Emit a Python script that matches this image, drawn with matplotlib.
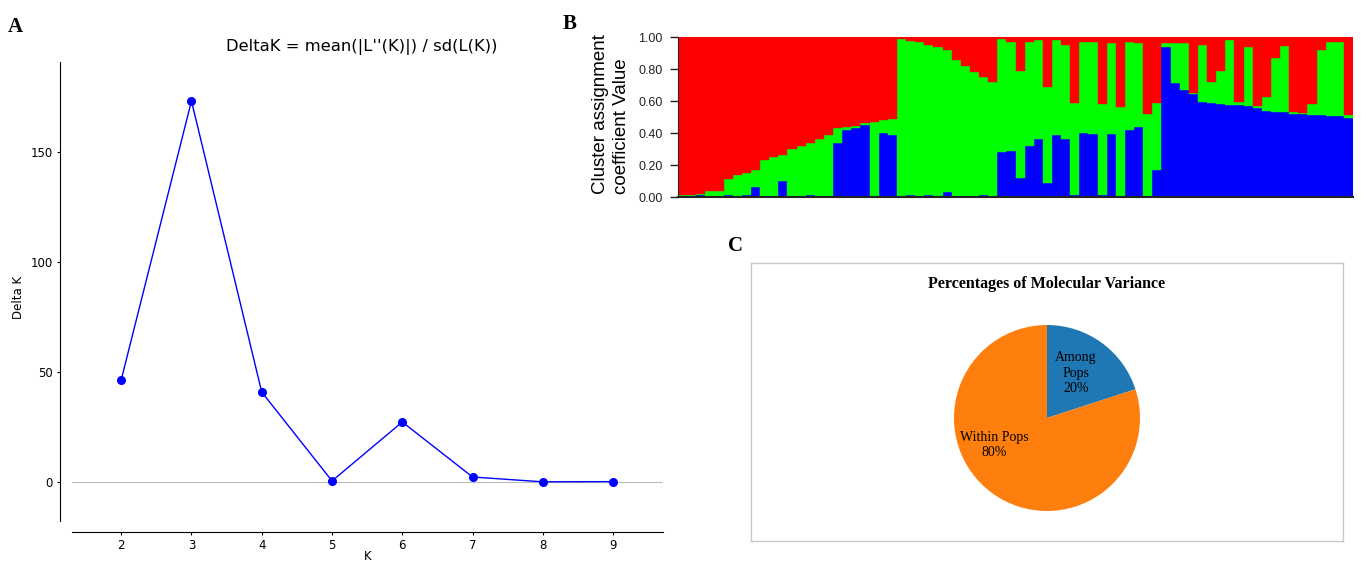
import matplotlib
matplotlib.use('Agg')
import matplotlib.pyplot as plt
import numpy as np

W, H = 1372, 565

# ---------------- Panel A data ----------------
k_values = [2, 3, 4, 5, 6, 7, 8, 9]
delta_k = [46.4, 173.2, 40.9, 0.5, 27.3, 2.3, 0.1, 0.2]
a_yticks = [0, 50, 100, 150]

# ---------------- Panel B data (per individual) ----------------
blue = [0.00, 0.00, 0.01, 0.00, 0.00, 0.01, 0.00, 0.01, 0.06, 0.00,
        0.00, 0.10, 0.00, 0.00, 0.01, 0.00, 0.00, 0.34, 0.42, 0.43,
        0.45, 0.00, 0.40, 0.39, 0.00, 0.01, 0.00, 0.01, 0.00, 0.03,
        0.00, 0.00, 0.00, 0.01, 0.00, 0.28, 0.29, 0.12, 0.32, 0.36,
        0.085, 0.39, 0.36, 0.01, 0.40, 0.395, 0.01, 0.395, 0.00, 0.42,
        0.435, 0.00, 0.17, 0.94, 0.71, 0.67, 0.645, 0.595, 0.585, 0.58,
        0.575, 0.575, 0.57, 0.555, 0.54, 0.53, 0.53, 0.52, 0.52, 0.515,
        0.515, 0.505, 0.505, 0.495]
green = [0.01, 0.01, 0.01, 0.04, 0.04, 0.10, 0.14, 0.14, 0.11, 0.23,
         0.25, 0.16, 0.30, 0.32, 0.33, 0.36, 0.385, 0.09, 0.02, 0.015,
         0.01, 0.47, 0.08, 0.095, 0.985, 0.965, 0.97, 0.94, 0.94, 0.89,
         0.855, 0.82, 0.78, 0.74, 0.72, 0.705, 0.68, 0.665, 0.65, 0.62,
         0.605, 0.59, 0.59, 0.58, 0.57, 0.575, 0.57, 0.565, 0.56, 0.55,
         0.525, 0.52, 0.42, 0.025, 0.25, 0.29, 0.005, 0.355, 0.135, 0.21,
         0.405, 0.02, 0.37, 0.015, 0.085, 0.34, 0.415, 0.01, 0.005, 0.065,
         0.405, 0.465, 0.465, 0.015]
red = [round(1.0 - b - g, 4) for b, g in zip(blue, green)]
b_yticks = [0.0, 0.2, 0.4, 0.6, 0.8, 1.0]

# ---------------- Panel C data ----------------
pie_values = [20, 80]
pie_colors = ['#1f77b4', '#ff7f0e']
pie_texts = ["Among\nPops\n20%", "Within Pops\n80%"]

fig = plt.figure(figsize=(W / 100, H / 100), dpi=100)
PT = 72 / 100  # points per pixel


def px_axes(l, t, r, b):
    return fig.add_axes([l / W, 1 - b / H, (r - l) / W, (b - t) / H])


def ftext(x, y, s, **kw):
    return fig.text(x / W, 1 - y / H, s, **kw)


# ---------------- Panel A ----------------
axA = px_axes(72, 62, 663, 521)
axA.set_xlim(1.3, 9.71)
axA.set_ylim(-17.7, 190.9)
axA.axhline(0, color='#bbbbbb', lw=0.8, zorder=0)
axA.plot(k_values, delta_k, '-o', color='#0000ff', lw=1.0, ms=5.5, zorder=3)
for s in ('top', 'right'):
    axA.spines[s].set_visible(False)
axA.spines['left'].set_position(('outward', 12 * PT))
axA.spines['bottom'].set_position(('outward', 11 * PT))
axA.set_xticks(k_values)
axA.set_yticks(a_yticks)
axA.tick_params(labelsize=8.5, length=2, direction='out', pad=3)
ftext(18, 297, 'Delta K', rotation=90, ha='center', va='center', fontsize=8.5,
      family='DejaVu Sans')
ftext(368, 557, 'K', ha='center', va='center', fontsize=8.5, family='DejaVu Sans')
ftext(362, 47, "DeltaK = mean(|L''(K)|) / sd(L(K))", ha='center', va='center',
      fontsize=11.8, family='DejaVu Sans')

# ---------------- Panel B ----------------
axB = px_axes(678, 37, 1353, 197)
n = len(blue)
x = np.arange(n)
bb = np.array(blue)
gg = np.array(green)
rr = np.array(red)
axB.bar(x, bb, width=1.0, align='edge', color='#0000ff', edgecolor='#0000ff', lw=0.3)
axB.bar(x, gg, bottom=bb, width=1.0, align='edge', color='#00ff00', edgecolor='#00ff00', lw=0.3)
axB.bar(x, rr, bottom=bb + gg, width=1.0, align='edge', color='#ff0000', edgecolor='#ff0000', lw=0.3)
axB.set_xlim(0, n)
axB.set_ylim(0, 1)
for s in ('top', 'right'):
    axB.spines[s].set_visible(False)
axB.spines['left'].set_color('#222222')
axB.spines['bottom'].set_color('#222222')
axB.spines['bottom'].set_linewidth(1.5)
axB.set_xticks([])
axB.set_yticks(b_yticks)
axB.set_yticklabels([f"{v:.2f}" for v in b_yticks], family='Liberation Sans', fontsize=9)
axB.tick_params(axis='y', length=6, width=1, pad=5, direction='out', colors='#222222')
ftext(611, 114, "Cluster assignment\ncoefficient Value", rotation=90, ha='center', va='center',
      multialignment='left', fontsize=13.5, family='Liberation Sans', linespacing=1.3)

# ---------------- Panel C ----------------
axBox = px_axes(751, 263, 1343, 541)
axBox.set_xticks([])
axBox.set_yticks([])
for s in axBox.spines.values():
    s.set_color('#c8c8c8')
    s.set_linewidth(1.0)
ftext(1047, 284, "Percentages of Molecular Variance", ha='center', va='center',
      fontsize=11.5, fontweight='bold', family='Liberation Serif')

r = 93
cx, cy = 1047, 418
axP = px_axes(cx - 1.25 * r, cy - 1.25 * r, cx + 1.25 * r, cy + 1.25 * r)
axP.pie(pie_values, colors=pie_colors, startangle=90, counterclock=False, radius=1.0)
axP.set_xlim(-1.25, 1.25)
axP.set_ylim(-1.25, 1.25)
axP.text(0.31, 0.48, pie_texts[0], ha='center', va='center', fontsize=10,
         family='Liberation Serif', linespacing=1.25)
axP.text(-0.57, -0.29, pie_texts[1], ha='center', va='center', fontsize=10,
         family='Liberation Serif', linespacing=1.25)

# ---------------- Panel letters ----------------
ftext(8, 32, "A", fontsize=15, fontweight='bold', family='Liberation Serif', va='baseline')
ftext(563, 29, "B", fontsize=15, fontweight='bold', family='Liberation Serif', va='baseline')
ftext(728, 251, "C", fontsize=15, fontweight='bold', family='Liberation Serif', va='baseline')

fig.savefig('out.png', dpi=100)
